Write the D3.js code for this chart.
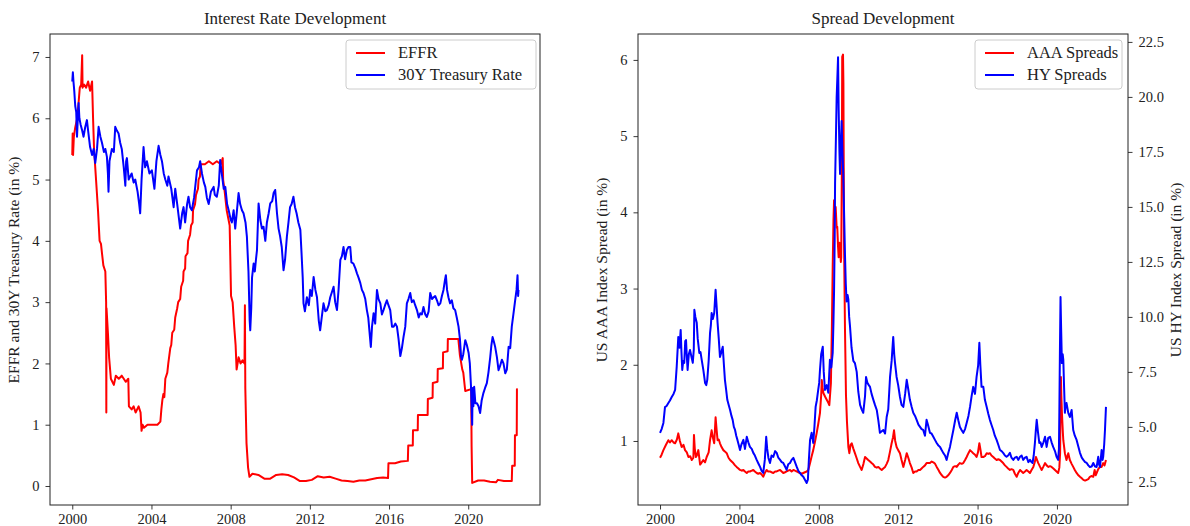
<!DOCTYPE html>
<html>
<head>
<meta charset="utf-8">
<script src="https://cdn.jsdelivr.net/npm/d3@7"></script>
<style>
  body { margin: 0; background: #fff; }
  svg { display: block; font-family: "Liberation Serif", "DejaVu Serif", serif; }
  .tick text { font-size: 14.5px; fill: #222; }
  .tick line { stroke: #222; }
</style>
</head>
<body>
<svg width="1190" height="526"></svg>
<script>
// [decimal year, value]
const effr = [[2000.0,5.4],[2000.02,5.75],[2000.04,5.4],[2000.08,5.7],[2000.15,5.85],[2000.25,6.0],[2000.33,6.3],[2000.38,6.5],[2000.45,6.55],[2000.5,7.03],[2000.52,6.5],[2000.6,6.55],[2000.7,6.5],[2000.8,6.6],[2000.9,6.45],[2001.0,6.6],[2001.05,6.0],[2001.1,5.5],[2001.2,5.0],[2001.3,4.5],[2001.38,4.0],[2001.45,3.95],[2001.5,3.8],[2001.57,3.6],[2001.67,3.5],[2001.71,3.0],[2001.72,1.2],[2001.73,2.9],[2001.8,2.5],[2001.86,2.1],[2001.95,1.75],[2002.1,1.65],[2002.2,1.8],[2002.35,1.75],[2002.5,1.8],[2002.7,1.7],[2002.83,1.75],[2002.86,1.3],[2003.0,1.25],[2003.1,1.3],[2003.2,1.2],[2003.35,1.3],[2003.45,1.2],[2003.5,0.9],[2003.55,1.0],[2003.62,0.95],[2003.8,1.0],[2004.0,1.0],[2004.3,1.0],[2004.45,1.05],[2004.5,1.25],[2004.55,1.4],[2004.6,1.5],[2004.65,1.45],[2004.7,1.75],[2004.8,1.85],[2004.85,2.0],[2004.95,2.25],[2005.0,2.3],[2005.05,2.5],[2005.15,2.55],[2005.2,2.75],[2005.3,2.9],[2005.35,3.0],[2005.45,3.05],[2005.5,3.25],[2005.6,3.35],[2005.62,3.5],[2005.7,3.55],[2005.72,3.75],[2005.82,3.8],[2005.85,4.0],[2005.95,4.1],[2006.0,4.25],[2006.08,4.3],[2006.1,4.5],[2006.2,4.6],[2006.25,4.75],[2006.35,4.85],[2006.38,5.0],[2006.45,5.05],[2006.48,5.25],[2006.7,5.25],[2006.9,5.3],[2007.1,5.25],[2007.3,5.3],[2007.5,5.25],[2007.6,5.35],[2007.62,5.0],[2007.7,4.8],[2007.8,4.5],[2007.95,4.25],[2008.02,3.1],[2008.1,3.0],[2008.18,2.6],[2008.25,2.3],[2008.3,1.9],[2008.4,2.1],[2008.5,2.0],[2008.6,2.05],[2008.7,2.0],[2008.72,2.95],[2008.74,1.6],[2008.8,0.7],[2008.88,0.3],[2008.95,0.15],[2009.1,0.2],[2009.4,0.18],[2009.7,0.12],[2010.0,0.12],[2010.3,0.18],[2010.6,0.19],[2010.9,0.18],[2011.2,0.14],[2011.5,0.08],[2011.8,0.08],[2012.1,0.1],[2012.4,0.16],[2012.7,0.14],[2013.0,0.15],[2013.3,0.12],[2013.6,0.09],[2013.9,0.08],[2014.2,0.07],[2014.5,0.09],[2014.8,0.09],[2015.1,0.11],[2015.4,0.13],[2015.7,0.14],[2015.95,0.13],[2015.97,0.37],[2016.3,0.37],[2016.6,0.4],[2016.95,0.41],[2016.97,0.66],[2017.2,0.66],[2017.21,0.91],[2017.45,0.91],[2017.46,1.16],[2017.95,1.16],[2017.96,1.42],[2018.2,1.44],[2018.21,1.68],[2018.45,1.7],[2018.46,1.91],[2018.72,1.92],[2018.73,2.18],[2018.96,2.2],[2018.97,2.4],[2019.5,2.4],[2019.58,2.13],[2019.7,1.9],[2019.75,1.85],[2019.85,1.55],[2020.15,1.58],[2020.17,0.65],[2020.2,0.05],[2020.5,0.09],[2020.8,0.09],[2021.1,0.07],[2021.4,0.06],[2021.5,0.1],[2021.8,0.08],[2022.2,0.08],[2022.22,0.33],[2022.35,0.33],[2022.36,0.83],[2022.45,0.83],[2022.46,1.58],[2022.5,1.58]];

const treasury = [[2000.0,6.6],[2000.03,6.75],[2000.06,6.6],[2000.1,6.45],[2000.15,6.2],[2000.2,6.1],[2000.24,5.7],[2000.28,6.0],[2000.32,6.25],[2000.36,6.0],[2000.42,5.9],[2000.5,5.8],[2000.57,5.7],[2000.65,5.85],[2000.74,5.97],[2000.8,5.8],[2000.9,5.53],[2001.0,5.4],[2001.08,5.5],[2001.16,5.27],[2001.25,5.5],[2001.33,5.86],[2001.42,5.7],[2001.5,5.6],[2001.6,5.45],[2001.67,5.5],[2001.75,5.37],[2001.8,5.1],[2001.83,4.8],[2001.88,5.3],[2002.0,5.5],[2002.1,5.45],[2002.17,5.86],[2002.25,5.8],[2002.34,5.75],[2002.42,5.6],[2002.5,5.5],[2002.6,5.2],[2002.68,4.9],[2002.72,5.3],[2002.76,5.35],[2002.85,5.0],[2003.0,5.1],[2003.1,4.95],[2003.18,5.0],[2003.3,4.8],[2003.38,4.6],[2003.43,4.45],[2003.5,5.0],[2003.6,5.53],[2003.68,5.2],[2003.77,5.3],[2003.9,5.1],[2004.02,5.15],[2004.15,4.85],[2004.25,5.3],[2004.36,5.55],[2004.45,5.4],[2004.53,5.3],[2004.62,5.1],[2004.7,5.0],[2004.8,4.9],[2004.86,5.05],[2005.0,4.85],[2005.12,4.55],[2005.2,4.85],[2005.3,4.6],[2005.45,4.2],[2005.55,4.45],[2005.62,4.55],[2005.7,4.3],[2005.8,4.6],[2005.87,4.72],[2005.95,4.55],[2006.04,4.5],[2006.15,4.7],[2006.3,5.15],[2006.4,5.2],[2006.46,5.3],[2006.55,5.1],[2006.65,4.95],[2006.72,4.88],[2006.8,4.7],[2006.89,4.6],[2007.0,4.8],[2007.14,4.88],[2007.2,4.75],[2007.3,4.72],[2007.4,4.9],[2007.47,5.32],[2007.55,5.1],[2007.65,4.85],[2007.73,4.88],[2007.82,4.6],[2007.9,4.5],[2008.0,4.35],[2008.06,4.3],[2008.15,4.5],[2008.23,4.2],[2008.32,4.5],[2008.4,4.78],[2008.48,4.6],[2008.57,4.5],[2008.65,4.45],[2008.75,4.3],[2008.82,4.07],[2008.9,3.5],[2008.96,2.7],[2008.99,2.54],[2009.04,2.9],[2009.08,3.4],[2009.16,3.63],[2009.22,3.5],[2009.28,3.7],[2009.33,3.85],[2009.41,4.61],[2009.5,4.34],[2009.58,4.2],[2009.66,4.23],[2009.75,4.0],[2009.83,4.3],[2009.92,4.45],[2010.0,4.61],[2010.1,4.65],[2010.17,4.78],[2010.25,4.83],[2010.34,4.45],[2010.42,4.2],[2010.5,4.07],[2010.58,3.9],[2010.67,3.52],[2010.75,3.7],[2010.84,4.07],[2010.92,4.3],[2011.0,4.55],[2011.08,4.6],[2011.17,4.72],[2011.25,4.55],[2011.33,4.45],[2011.42,4.3],[2011.52,4.18],[2011.58,3.8],[2011.64,3.4],[2011.68,2.98],[2011.75,2.85],[2011.85,3.08],[2011.95,2.95],[2012.02,3.2],[2012.1,3.1],[2012.19,3.41],[2012.28,3.2],[2012.36,3.08],[2012.45,2.7],[2012.52,2.54],[2012.6,2.75],[2012.69,2.98],[2012.78,2.85],[2012.86,2.87],[2012.95,2.95],[2013.03,3.08],[2013.1,3.15],[2013.2,3.25],[2013.28,3.0],[2013.37,2.87],[2013.45,3.2],[2013.54,3.69],[2013.62,3.75],[2013.7,3.9],[2013.78,3.7],[2013.87,3.85],[2013.95,3.9],[2014.04,3.9],[2014.1,3.65],[2014.2,3.63],[2014.3,3.55],[2014.38,3.47],[2014.46,3.4],[2014.55,3.31],[2014.63,3.2],[2014.71,3.15],[2014.8,3.05],[2014.88,2.87],[2014.95,2.75],[2015.08,2.27],[2015.14,2.6],[2015.22,2.82],[2015.3,2.65],[2015.39,3.2],[2015.47,3.05],[2015.56,2.98],[2015.64,2.8],[2015.72,2.87],[2015.8,2.95],[2015.89,3.03],[2015.97,2.95],[2016.06,2.87],[2016.15,2.6],[2016.23,2.6],[2016.32,2.65],[2016.4,2.6],[2016.48,2.4],[2016.57,2.12],[2016.65,2.25],[2016.73,2.43],[2016.82,2.6],[2016.9,2.98],[2016.98,3.05],[2017.07,3.15],[2017.15,3.0],[2017.24,3.03],[2017.32,2.95],[2017.41,2.87],[2017.5,2.75],[2017.58,2.82],[2017.66,2.8],[2017.74,2.92],[2017.83,2.8],[2017.91,2.76],[2018.0,2.85],[2018.08,3.15],[2018.17,3.05],[2018.25,3.08],[2018.33,3.1],[2018.42,3.03],[2018.5,2.95],[2018.59,2.98],[2018.67,3.1],[2018.75,3.2],[2018.82,3.35],[2018.87,3.44],[2018.93,3.2],[2019.0,3.08],[2019.08,2.98],[2019.17,3.03],[2019.25,2.9],[2019.34,2.87],[2019.42,2.75],[2019.51,2.6],[2019.58,2.4],[2019.64,2.1],[2019.68,2.06],[2019.75,2.15],[2019.85,2.38],[2019.93,2.3],[2020.02,2.17],[2020.08,2.0],[2020.14,1.62],[2020.18,1.2],[2020.2,1.0],[2020.22,1.6],[2020.26,1.3],[2020.3,1.62],[2020.36,1.35],[2020.44,1.35],[2020.52,1.3],[2020.6,1.19],[2020.68,1.4],[2020.77,1.52],[2020.85,1.6],[2020.94,1.68],[2021.02,1.85],[2021.11,2.1],[2021.17,2.3],[2021.23,2.43],[2021.3,2.35],[2021.36,2.27],[2021.45,2.1],[2021.53,1.89],[2021.6,1.95],[2021.7,2.06],[2021.78,2.0],[2021.87,1.84],[2021.95,1.9],[2022.04,2.27],[2022.12,2.25],[2022.2,2.6],[2022.28,2.8],[2022.37,3.03],[2022.44,3.2],[2022.49,3.44],[2022.52,3.1],[2022.54,3.2]];

const aaa = [[2000.0,0.78],[2000.08,0.82],[2000.17,0.88],[2000.3,0.95],[2000.42,1.01],[2000.5,0.98],[2000.59,1.01],[2000.68,0.98],[2000.76,0.97],[2000.85,1.02],[2000.92,1.1],[2001.0,1.0],[2001.09,0.92],[2001.18,0.95],[2001.26,0.88],[2001.35,0.85],[2001.43,0.79],[2001.52,0.8],[2001.6,0.75],[2001.68,0.78],[2001.71,1.08],[2001.75,0.9],[2001.81,0.79],[2001.87,0.82],[2001.93,0.88],[2002.02,0.69],[2002.1,0.72],[2002.18,0.75],[2002.27,0.72],[2002.35,0.79],[2002.45,0.85],[2002.52,1.01],[2002.6,1.14],[2002.66,1.05],[2002.73,0.97],[2002.8,1.31],[2002.85,1.15],[2002.9,1.01],[2002.96,1.02],[2003.02,0.97],[2003.1,0.92],[2003.19,0.88],[2003.28,0.86],[2003.36,0.84],[2003.45,0.78],[2003.53,0.75],[2003.61,0.73],[2003.69,0.71],[2003.78,0.68],[2003.86,0.66],[2003.95,0.64],[2004.03,0.62],[2004.12,0.61],[2004.2,0.62],[2004.28,0.6],[2004.37,0.58],[2004.45,0.6],[2004.53,0.6],[2004.62,0.61],[2004.7,0.62],[2004.78,0.6],[2004.87,0.58],[2004.95,0.57],[2005.04,0.58],[2005.12,0.56],[2005.2,0.53],[2005.28,0.58],[2005.37,0.62],[2005.45,0.6],[2005.54,0.6],[2005.62,0.59],[2005.71,0.58],[2005.8,0.6],[2005.88,0.6],[2005.96,0.61],[2006.05,0.62],[2006.13,0.6],[2006.21,0.58],[2006.3,0.59],[2006.38,0.6],[2006.46,0.61],[2006.55,0.62],[2006.63,0.6],[2006.72,0.62],[2006.8,0.61],[2006.89,0.6],[2006.97,0.59],[2007.05,0.58],[2007.14,0.57],[2007.22,0.58],[2007.3,0.59],[2007.39,0.6],[2007.47,0.62],[2007.56,0.71],[2007.64,0.8],[2007.72,0.88],[2007.8,0.98],[2007.89,1.1],[2007.97,1.22],[2008.06,1.37],[2008.12,1.6],[2008.15,1.8],[2008.19,1.7],[2008.23,1.63],[2008.32,1.58],[2008.4,1.54],[2008.48,1.5],[2008.53,1.47],[2008.61,1.76],[2008.66,2.5],[2008.7,3.28],[2008.74,3.9],[2008.77,4.16],[2008.8,3.95],[2008.85,4.07],[2008.9,3.8],[2008.93,3.81],[2008.97,3.55],[2009.0,3.41],[2009.04,3.6],[2009.07,3.55],[2009.11,3.35],[2009.13,3.41],[2009.16,4.5],[2009.18,6.04],[2009.22,6.07],[2009.24,5.7],[2009.27,3.64],[2009.32,2.46],[2009.37,1.6],[2009.42,1.25],[2009.49,0.92],[2009.54,0.84],[2009.6,0.95],[2009.66,0.97],[2009.74,0.9],[2009.82,0.84],[2009.9,0.78],[2009.99,0.71],[2010.08,0.66],[2010.16,0.62],[2010.25,0.7],[2010.33,0.79],[2010.41,0.77],[2010.49,0.75],[2010.58,0.73],[2010.66,0.71],[2010.75,0.69],[2010.83,0.66],[2010.92,0.65],[2011.0,0.66],[2011.08,0.64],[2011.17,0.62],[2011.25,0.64],[2011.34,0.66],[2011.42,0.7],[2011.5,0.75],[2011.58,0.85],[2011.67,0.97],[2011.74,1.05],[2011.79,1.14],[2011.85,1.0],[2011.92,0.92],[2012.0,0.88],[2012.09,0.84],[2012.17,0.75],[2012.26,0.66],[2012.35,0.75],[2012.43,0.84],[2012.51,0.78],[2012.59,0.71],[2012.68,0.65],[2012.76,0.58],[2012.85,0.6],[2012.93,0.6],[2013.02,0.62],[2013.1,0.62],[2013.18,0.64],[2013.26,0.66],[2013.35,0.68],[2013.43,0.71],[2013.52,0.71],[2013.6,0.71],[2013.69,0.73],[2013.77,0.72],[2013.86,0.7],[2013.94,0.66],[2014.03,0.62],[2014.11,0.58],[2014.2,0.55],[2014.27,0.53],[2014.36,0.52],[2014.44,0.53],[2014.52,0.55],[2014.61,0.58],[2014.7,0.62],[2014.78,0.66],[2014.87,0.67],[2014.95,0.66],[2015.03,0.69],[2015.11,0.71],[2015.2,0.7],[2015.28,0.71],[2015.37,0.75],[2015.45,0.79],[2015.54,0.84],[2015.62,0.88],[2015.7,0.86],[2015.78,0.84],[2015.87,0.82],[2015.95,0.79],[2016.02,0.85],[2016.09,0.97],[2016.15,0.88],[2016.2,0.79],[2016.29,0.79],[2016.37,0.8],[2016.46,0.84],[2016.54,0.83],[2016.62,0.84],[2016.7,0.81],[2016.79,0.79],[2016.87,0.77],[2016.96,0.75],[2017.04,0.76],[2017.13,0.75],[2017.21,0.73],[2017.29,0.71],[2017.38,0.68],[2017.46,0.66],[2017.54,0.64],[2017.63,0.62],[2017.71,0.63],[2017.8,0.62],[2017.88,0.57],[2017.97,0.53],[2018.05,0.58],[2018.14,0.62],[2018.22,0.6],[2018.3,0.58],[2018.39,0.6],[2018.47,0.62],[2018.56,0.6],[2018.64,0.58],[2018.72,0.62],[2018.81,0.66],[2018.88,0.72],[2018.94,0.79],[2019.0,0.75],[2019.06,0.71],[2019.15,0.66],[2019.23,0.62],[2019.31,0.66],[2019.4,0.71],[2019.48,0.68],[2019.57,0.66],[2019.65,0.67],[2019.73,0.66],[2019.82,0.64],[2019.9,0.62],[2019.98,0.6],[2020.06,0.58],[2020.12,0.65],[2020.16,0.84],[2020.18,1.5],[2020.2,1.84],[2020.22,1.6],[2020.25,1.37],[2020.3,1.1],[2020.32,1.01],[2020.4,0.84],[2020.48,0.75],[2020.57,0.84],[2020.65,0.75],[2020.74,0.7],[2020.82,0.66],[2020.9,0.62],[2020.99,0.58],[2021.08,0.55],[2021.16,0.53],[2021.25,0.51],[2021.33,0.49],[2021.42,0.48],[2021.5,0.49],[2021.58,0.5],[2021.66,0.53],[2021.75,0.54],[2021.83,0.53],[2021.9,0.62],[2021.95,0.55],[2022.0,0.58],[2022.08,0.63],[2022.17,0.66],[2022.25,0.66],[2022.33,0.71],[2022.4,0.68],[2022.47,0.75]];

const hy = [[2000.0,4.73],[2000.08,4.9],[2000.17,5.18],[2000.25,5.9],[2000.33,5.95],[2000.42,6.09],[2000.5,6.2],[2000.59,6.36],[2000.68,6.5],[2000.76,6.68],[2000.84,7.73],[2000.92,9.09],[2000.98,8.6],[2001.04,9.41],[2001.08,8.4],[2001.12,7.59],[2001.17,8.0],[2001.22,7.91],[2001.27,8.9],[2001.31,8.95],[2001.35,8.2],[2001.39,7.59],[2001.45,8.3],[2001.51,8.5],[2001.58,8.2],[2001.65,7.91],[2001.7,8.5],[2001.73,10.32],[2001.78,10.0],[2001.85,9.73],[2001.9,9.0],[2001.98,8.36],[2002.04,8.4],[2002.1,8.05],[2002.18,7.6],[2002.27,7.0],[2002.33,6.9],[2002.38,7.14],[2002.45,8.0],[2002.52,9.27],[2002.56,9.6],[2002.6,10.18],[2002.66,9.9],[2002.73,10.18],[2002.8,11.23],[2002.85,10.5],[2002.9,9.73],[2002.96,9.0],[2003.02,8.18],[2003.09,8.4],[2003.16,8.64],[2003.22,7.8],[2003.27,7.14],[2003.33,6.7],[2003.39,6.23],[2003.46,6.0],[2003.53,5.77],[2003.6,5.5],[2003.66,5.32],[2003.72,5.0],[2003.78,4.86],[2003.84,4.6],[2003.9,4.41],[2003.96,4.2],[2004.03,3.95],[2004.1,4.2],[2004.2,4.41],[2004.28,4.0],[2004.37,4.55],[2004.45,4.3],[2004.53,4.09],[2004.62,4.0],[2004.7,3.82],[2004.78,3.7],[2004.87,3.5],[2004.95,3.35],[2005.04,3.18],[2005.12,3.0],[2005.2,2.91],[2005.28,3.5],[2005.35,4.55],[2005.4,4.0],[2005.46,3.6],[2005.54,3.36],[2005.62,3.7],[2005.71,3.64],[2005.8,3.9],[2005.88,3.82],[2005.96,3.6],[2006.05,3.5],[2006.13,3.4],[2006.21,3.36],[2006.3,3.2],[2006.38,3.05],[2006.46,3.3],[2006.55,3.36],[2006.63,3.5],[2006.72,3.59],[2006.8,3.4],[2006.89,3.18],[2006.97,3.0],[2007.05,2.91],[2007.14,2.8],[2007.22,2.73],[2007.3,2.6],[2007.39,2.45],[2007.45,2.6],[2007.5,3.5],[2007.56,4.41],[2007.64,4.73],[2007.72,4.27],[2007.78,5.0],[2007.84,5.91],[2007.9,6.2],[2007.97,6.68],[2008.02,7.0],[2008.06,7.59],[2008.12,8.3],[2008.2,8.64],[2008.25,7.5],[2008.31,6.68],[2008.4,6.9],[2008.48,6.55],[2008.56,8.05],[2008.63,7.7],[2008.7,8.36],[2008.74,9.8],[2008.77,11.23],[2008.8,13.5],[2008.82,16.09],[2008.86,18.0],[2008.9,20.0],[2008.94,21.0],[2008.97,21.8],[2009.0,19.5],[2009.04,17.5],[2009.07,16.5],[2009.11,17.8],[2009.15,18.9],[2009.19,17.5],[2009.23,16.6],[2009.28,14.5],[2009.32,12.8],[2009.36,11.5],[2009.4,10.7],[2009.45,11.0],[2009.49,10.8],[2009.53,10.0],[2009.57,9.6],[2009.65,8.6],[2009.74,8.0],[2009.82,7.9],[2009.91,7.5],[2009.99,6.6],[2010.08,6.0],[2010.16,5.8],[2010.24,5.64],[2010.33,6.4],[2010.38,7.27],[2010.45,7.0],[2010.52,6.9],[2010.58,6.82],[2010.66,6.5],[2010.75,6.23],[2010.83,6.0],[2010.92,5.77],[2011.0,5.3],[2011.08,4.73],[2011.17,4.8],[2011.25,4.86],[2011.34,4.7],[2011.42,5.45],[2011.5,5.8],[2011.59,7.27],[2011.67,8.0],[2011.75,9.09],[2011.8,8.3],[2011.84,7.91],[2011.92,7.27],[2012.0,6.9],[2012.09,6.36],[2012.17,6.0],[2012.26,5.91],[2012.35,6.5],[2012.43,7.14],[2012.51,6.7],[2012.59,6.23],[2012.68,5.9],[2012.76,5.64],[2012.85,5.5],[2012.93,5.32],[2013.02,5.1],[2013.1,5.0],[2013.18,4.9],[2013.26,4.86],[2013.35,4.6],[2013.43,5.32],[2013.5,5.1],[2013.6,4.73],[2013.68,4.7],[2013.77,4.55],[2013.86,4.4],[2013.94,4.27],[2014.03,4.15],[2014.11,4.09],[2014.19,3.95],[2014.27,3.82],[2014.36,3.7],[2014.44,3.5],[2014.52,3.8],[2014.61,4.09],[2014.7,4.5],[2014.78,4.86],[2014.87,5.3],[2014.95,5.64],[2015.03,5.3],[2015.11,5.0],[2015.2,4.85],[2015.28,4.73],[2015.37,4.9],[2015.45,5.18],[2015.54,5.5],[2015.62,5.91],[2015.7,6.4],[2015.78,6.82],[2015.87,6.5],[2015.95,7.27],[2016.03,7.8],[2016.09,8.82],[2016.14,7.8],[2016.2,6.82],[2016.29,6.82],[2016.37,6.23],[2016.46,5.91],[2016.54,5.6],[2016.62,5.32],[2016.7,5.1],[2016.79,4.86],[2016.87,4.6],[2016.96,4.41],[2017.04,4.2],[2017.13,3.95],[2017.21,3.9],[2017.29,3.82],[2017.38,3.7],[2017.46,3.64],[2017.54,3.7],[2017.63,3.82],[2017.71,3.6],[2017.8,3.5],[2017.88,3.6],[2017.97,3.64],[2018.05,3.5],[2018.14,3.64],[2018.22,3.7],[2018.3,3.5],[2018.39,3.6],[2018.47,3.64],[2018.56,3.4],[2018.64,3.5],[2018.72,3.4],[2018.77,3.36],[2018.83,3.7],[2018.89,4.27],[2018.94,4.9],[2018.98,5.32],[2019.04,4.8],[2019.11,4.27],[2019.17,4.3],[2019.23,4.09],[2019.32,4.3],[2019.4,4.55],[2019.48,4.09],[2019.56,4.5],[2019.65,4.55],[2019.73,4.3],[2019.81,4.09],[2019.9,3.9],[2019.98,3.64],[2020.06,3.5],[2020.1,4.0],[2020.12,5.64],[2020.15,8.5],[2020.18,10.9],[2020.21,9.5],[2020.25,7.9],[2020.29,8.3],[2020.32,8.05],[2020.36,6.8],[2020.4,5.64],[2020.44,6.0],[2020.48,6.09],[2020.57,5.64],[2020.65,5.45],[2020.74,5.77],[2020.82,4.86],[2020.9,4.6],[2020.99,4.41],[2021.08,4.1],[2021.16,3.82],[2021.25,3.6],[2021.33,3.5],[2021.42,3.4],[2021.5,3.36],[2021.58,3.25],[2021.66,3.18],[2021.75,3.2],[2021.83,3.36],[2021.92,3.2],[2022.0,3.18],[2022.08,3.64],[2022.12,3.3],[2022.17,3.18],[2022.25,3.95],[2022.3,3.5],[2022.33,3.64],[2022.38,4.2],[2022.42,4.86],[2022.47,5.91]];

const xTicks = [2000, 2004, 2008, 2012, 2016, 2020];
const rateTicks = [0, 1, 2, 3, 4, 5, 6, 7];
const aaaTicks = [1, 2, 3, 4, 5, 6];
const hyTicks = [2.5, 5.0, 7.5, 10.0, 12.5, 15.0, 17.5, 20.0, 22.5];

const svg = d3.select('svg');
const plotTop = 34, plotBottom = 505;
const tickLen = 4.5;

function frame(x0, x1) {
  svg.append('rect')
    .attr('x', x0).attr('y', plotTop)
    .attr('width', x1 - x0).attr('height', plotBottom - plotTop)
    .attr('fill', 'none').attr('stroke', '#222').attr('stroke-width', 1);
}

function styleAxis(g) {
  g.attr('font-family', null).attr('font-size', null);
  g.select('.domain').remove();
  g.selectAll('.tick line').attr('stroke-width', 0.9);
}

function drawLine(xs, ys, data, color) {
  const line = d3.line().x(d => xs(d[0])).y(d => ys(d[1]));
  svg.append('path')
    .datum(data)
    .attr('d', line)
    .attr('fill', 'none')
    .attr('stroke', color)
    .attr('stroke-width', 2)
    .attr('stroke-linejoin', 'round');
}

function legend(x, y, w, items) {
  const g = svg.append('g').attr('transform', `translate(${x},${y})`);
  g.append('rect')
    .attr('width', w).attr('height', 49).attr('rx', 3)
    .attr('fill', 'rgba(255,255,255,0.8)').attr('stroke', '#ccc');
  items.forEach((it, i) => {
    const yy = 13 + i * 22;
    g.append('line').attr('x1', 10).attr('x2', 39).attr('y1', yy).attr('y2', yy)
      .attr('stroke', it.color).attr('stroke-width', 2);
    g.append('text').attr('x', 52).attr('y', yy + 5)
      .attr('font-size', 16.5).attr('fill', '#222').text(it.label);
  });
}

function title(cx, text) {
  svg.append('text').attr('x', cx).attr('y', 24).attr('text-anchor', 'middle')
    .attr('font-size', 17).attr('fill', '#222').text(text);
}

function yLabel(cx, cy, text) {
  svg.append('text')
    .attr('transform', `translate(${cx},${cy}) rotate(-90)`)
    .attr('text-anchor', 'middle')
    .attr('font-size', 15.5).attr('fill', '#222').text(text);
}

// ---------------- left panel ----------------
const xL = d3.scaleLinear().domain([1998.875, 2023.625]).range([50, 540]);
const yL = d3.scaleLinear().domain([-0.31, 7.375]).range([plotBottom, plotTop]);

svg.append('g').attr('transform', `translate(0,${plotBottom})`)
  .call(d3.axisBottom(xL).tickValues(xTicks).tickFormat(d3.format('d')).tickSize(tickLen).tickPadding(4))
  .call(styleAxis);
svg.append('g').attr('transform', 'translate(50,0)')
  .call(d3.axisLeft(yL).tickValues(rateTicks).tickFormat(d3.format('d')).tickSize(tickLen).tickPadding(6))
  .call(styleAxis);

drawLine(xL, yL, effr, '#ff0000');
drawLine(xL, yL, treasury, '#0000ff');
frame(50, 540);
legend(346, 40, 190, [{ label: 'EFFR', color: '#ff0000' }, { label: '30Y Treasury Rate', color: '#0000ff' }]);
title(295, 'Interest Rate Development');
yLabel(19, 270, 'EFFR and 30Y Treasury Rate (in %)');

// ---------------- right panel ----------------
const xR = d3.scaleLinear().domain([1998.89, 2023.58]).range([638, 1128]);
const yA = d3.scaleLinear().domain([0.16, 6.34]).range([plotBottom, plotTop]);
const yH = d3.scaleLinear().domain([1.45, 22.86]).range([plotBottom, plotTop]);

svg.append('g').attr('transform', `translate(0,${plotBottom})`)
  .call(d3.axisBottom(xR).tickValues(xTicks).tickFormat(d3.format('d')).tickSize(tickLen).tickPadding(4))
  .call(styleAxis);
svg.append('g').attr('transform', 'translate(638,0)')
  .call(d3.axisLeft(yA).tickValues(aaaTicks).tickFormat(d3.format('d')).tickSize(tickLen).tickPadding(6))
  .call(styleAxis);
svg.append('g').attr('transform', 'translate(1128,0)')
  .call(d3.axisRight(yH).tickValues(hyTicks).tickFormat(d3.format('.1f')).tickSize(tickLen).tickPadding(6))
  .call(styleAxis);

drawLine(xR, yA, aaa, '#ff0000');
drawLine(xR, yH, hy, '#0000ff');
frame(638, 1128);
legend(975, 40, 147, [{ label: 'AAA Spreads', color: '#ff0000' }, { label: 'HY Spreads', color: '#0000ff' }]);
title(883, 'Spread Development');
yLabel(607, 270, 'US AAA Index Spread (in %)');
yLabel(1181, 270, 'US HY Index Spread (in %)');
</script>
</body>
</html>
